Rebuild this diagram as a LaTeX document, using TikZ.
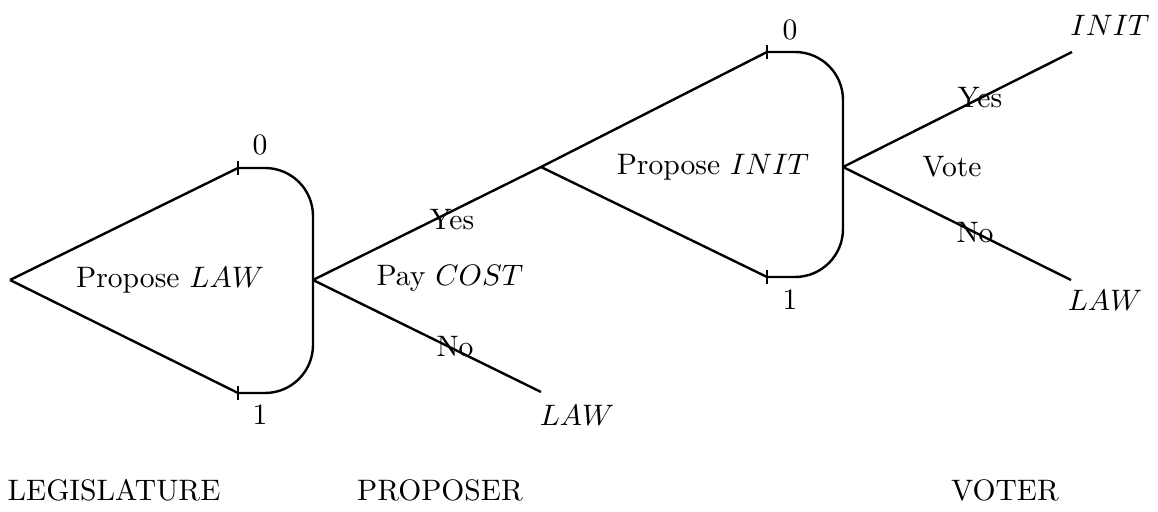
\documentclass[tikz,border=0pt]{standalone}
\begin{document}
\begin{tikzpicture}[x=0.5pt,y=-0.5pt,
  edge/.style={line width=1.2pt},
  lbl/.style={inner sep=0pt,scale=1.48,font=\fontsize{10}{12}\selectfont}]
\useasboundingbox (0,0) rectangle (1158,512);
% coordinates
\coordinate (apexA) at (10,280);
\coordinate (zeroA) at (238,168);
\coordinate (oneA) at (238,393);
\coordinate (forkA) at (313,280);
\coordinate (apexB) at (541,167);
\coordinate (endLawA) at (541,392);
\coordinate (zeroB) at (767,52);
\coordinate (oneB) at (767,277);
\coordinate (forkB) at (843,167);
\coordinate (endInit) at (1072,52);
\coordinate (endLawB) at (1071,280);
% shape A
\draw[edge] (apexA) -- (zeroA);
\draw[edge] (apexA) -- (oneA);
\draw[edge,rounded corners=24pt] (zeroA) -- (forkA |- zeroA) -- (forkA |- oneA) -- (oneA);
\draw[edge] (zeroA) ++(0,-7) -- ++(0,14);
\draw[edge] (oneA) ++(0,-7) -- ++(0,14);
% fork A
\draw[edge] (forkA) -- (apexB);
\draw[edge] (forkA) -- (endLawA);
% shape B
\draw[edge] (apexB) -- (zeroB);
\draw[edge] (apexB) -- (oneB);
\draw[edge,rounded corners=24pt] (zeroB) -- (forkB |- zeroB) -- (forkB |- oneB) -- (oneB);
\draw[edge] (zeroB) ++(0,-7) -- ++(0,14);
\draw[edge] (oneB) ++(0,-7) -- ++(0,14);
% fork B
\draw[edge] (forkB) -- (endInit);
\draw[edge] (forkB) -- (endLawB);
% labels
\node[lbl] (zA) at (260,145) {0};
\node[lbl] (oA) at (260,415) {1};
\node[lbl] (zB) at (790,30) {0};
\node[lbl] (oB) at (790,300) {1};
\node[lbl] (propLaw) at (170,280) {Propose $LAW$};
\node[lbl] (propInit) at (713,167) {Propose $INIT$};
\node[lbl] (pay) at (450,278) {Pay $COST$};
\node[lbl] (yesA) at (452,220) {Yes};
\node[lbl] (noA) at (455,347) {No};
\node[lbl] (vote) at (952,167) {Vote};
\node[lbl] (yesB) at (980,98) {Yes};
\node[lbl] (noB) at (975,233) {No};
\node[lbl] (initOut) at (1110,25) {$INIT$};
\node[lbl] (lawOutB) at (1105,300) {$LAW$};
\node[lbl] (lawOutA) at (577,415) {$LAW$};
\node[lbl] (leg) at (114,490) {LEGISLATURE};
\node[lbl] (prop) at (440,490) {PROPOSER};
\node[lbl] (voter) at (1005,490) {VOTER};
\end{tikzpicture}
\end{document}
